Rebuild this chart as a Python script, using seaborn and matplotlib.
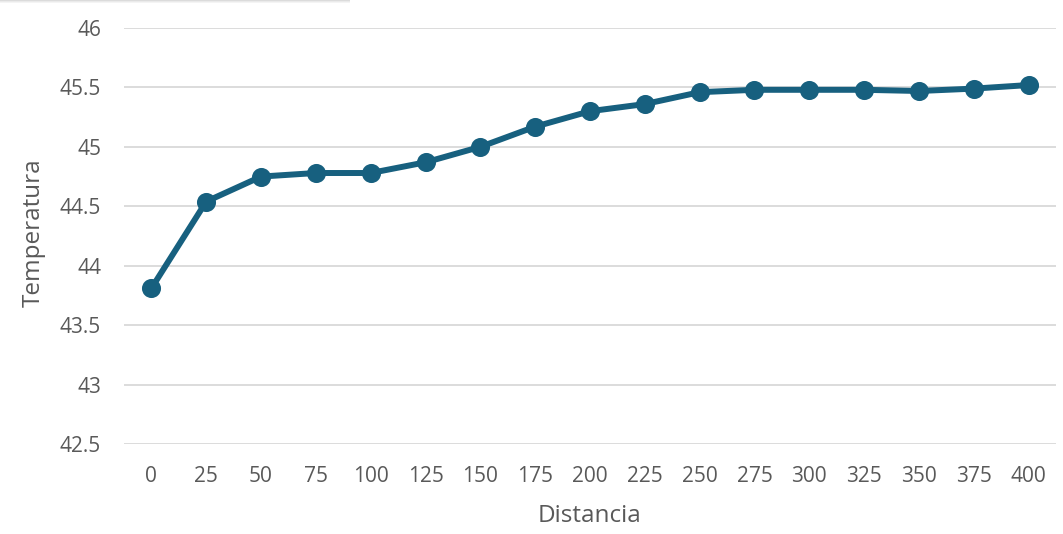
import matplotlib
matplotlib.use("Agg")
import matplotlib.pyplot as plt
import seaborn as sns
import pandas as pd
from matplotlib.patches import Rectangle

# Data: temperature measured along the distance
distancia = [0, 25, 50, 75, 100, 125, 150, 175, 200, 225, 250, 275, 300, 325, 350, 375, 400]
temperatura = [43.81, 44.54, 44.75, 44.78, 44.78, 44.87, 45.00, 45.17, 45.30, 45.36,
               45.46, 45.48, 45.48, 45.48, 45.47, 45.49, 45.52]
y_ticks = [42.5, 43, 43.5, 44, 44.5, 45, 45.5, 46]

df = pd.DataFrame({"Distancia": [str(d) for d in distancia], "Temperatura": temperatura})

sns.set_theme(style="white")
plt.rcParams["font.family"] = ["Open Sans", "DejaVu Sans"]

LINE = "#17607f"
TEXT = "#595959"
GRID = "#d9d9d9"

fig = plt.figure(figsize=(10.63, 5.34), dpi=100)
ax = fig.add_axes([124 / 1063, 1 - 444 / 534, (1056 - 124) / 1063, (444 - 28) / 534])

sns.pointplot(data=df, x="Distancia", y="Temperatura", order=df["Distancia"],
              color=LINE, markers="o", linewidth=4.3, markersize=10.5, ax=ax)

ax.set_ylim(42.5, 46)
ax.set_xlim(-0.5, len(distancia) - 0.5)
ax.set_yticks(y_ticks)
ax.set_yticklabels([f"{v:g}" for v in y_ticks])
ax.yaxis.grid(True, color=GRID, linewidth=1.3)
ax.set_axisbelow(True)
for s in ax.spines.values():
    s.set_visible(False)
ax.tick_params(axis="both", length=0, labelsize=15, colors=TEXT)
ax.tick_params(axis="y", pad=16.5)
ax.tick_params(axis="x", pad=16)

ax.set_xlabel("Distancia", fontsize=17.5, color=TEXT)
ax.set_ylabel("Temperatura", fontsize=17.5, color=TEXT)
ax.xaxis.label.set_va("baseline")
ax.yaxis.label.set_va("baseline")
ax.xaxis.set_label_coords(0.499, -0.187)
ax.yaxis.set_label_coords(-0.090, 0.508)

# faint shadowed edge along the top-left border
for i, a in enumerate([0.35, 0.2, 0.1]):
    fig.patches.append(Rectangle((0, 1 - (i + 1) / 534), 350 / 1063, 1 / 534,
                                 transform=fig.transFigure, color="#9a9a9a",
                                 alpha=a, linewidth=0))

fig.savefig("out.png", dpi=100)
